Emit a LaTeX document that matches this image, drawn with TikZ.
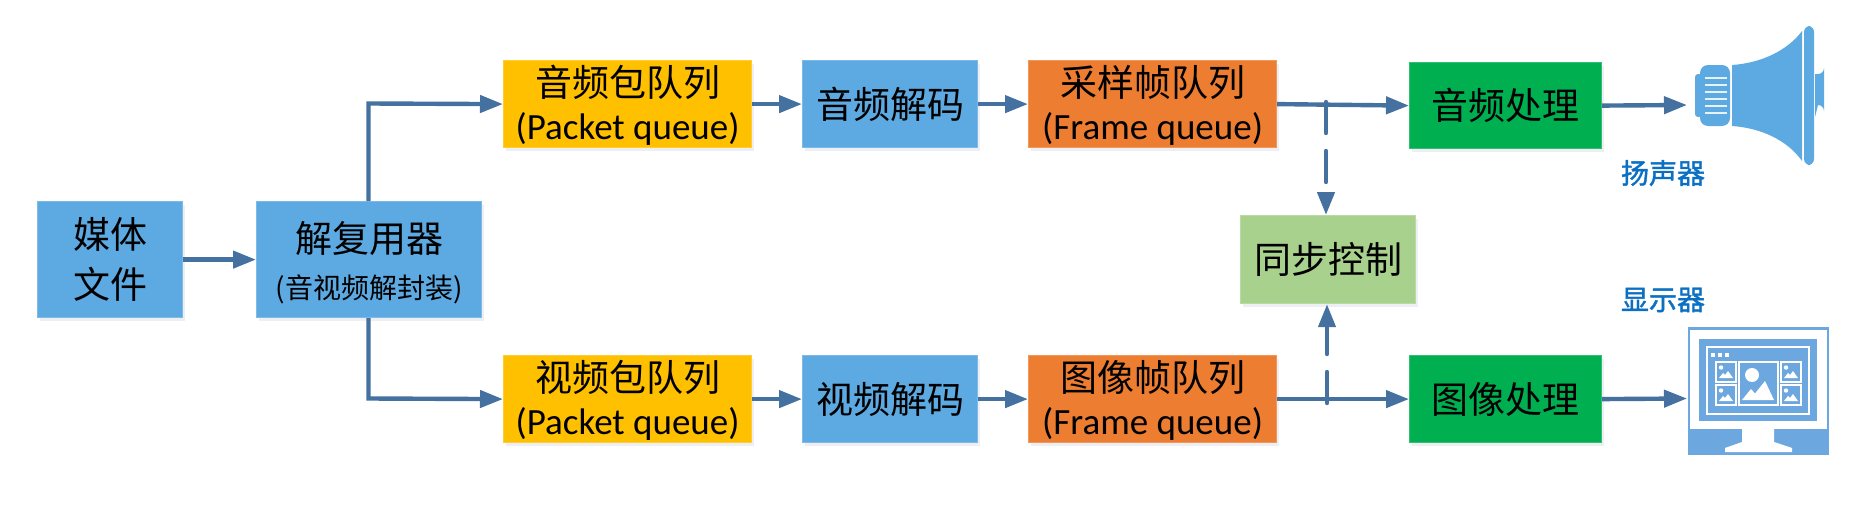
\documentclass[tikz,border=0pt]{standalone}
\usepackage{fontspec}
\setmainfont{Noto Sans CJK SC}
\newfontfamily\latinf{Carlito}
\newfontfamily\lblf[FakeBold=1.5]{Noto Sans CJK SC}
\usetikzlibrary{arrows.meta,shadows}
\definecolor{linkc}{HTML}{44719F}
\definecolor{blueb}{HTML}{5DA9E2}
\definecolor{yellowb}{HTML}{FFC000}
\definecolor{orangeb}{HTML}{ED7D31}
\definecolor{greenb}{HTML}{00AF50}
\definecolor{syncb}{HTML}{A9D18E}
\definecolor{lbl}{HTML}{0B70C4}
\definecolor{mon}{HTML}{6CA8DF}
\tikzset{
  x=0.5pt,y=-0.5pt,
  boxs/.style={draw=#1!80!white,line width=0.6pt,fill=#1,inner sep=0pt,anchor=north west,align=center,font=\fontsize{18.5}{23}\selectfont,
    general shadow={shadow xshift=1.2pt,shadow yshift=-1.6pt,fill=blue!25!gray!18,opacity=.6}},
  lnk/.style={draw=linkc,line width=2.2pt,-{Triangle[length=11.5pt,width=8.5pt,fill=linkc]}},
  dsh/.style={lnk,dash pattern=on 15.5pt off 9pt},
  lbls/.style={font=\lblf\fontsize{14}{16}\selectfont,text=lbl},
  wline/.style={draw=white,line width=1pt},
  thumb/.pic={
    \draw[white,line width=0.9pt] (0,0) rectangle (20,20);
    \fill[white] (5,5.5) circle (2.2);
    \fill[white] (3,16) -- (7,11) -- (9,13) -- (12,9) -- (17,16) -- cycle;
  },
}
\newcommand{\bx}[7]{\node[boxs=#6,minimum width=#3*0.5pt,minimum height=#4*0.5pt] (#7) at (#1,#2) {#5};}
\newcommand{\lt}[1]{{\latinf\fontsize{18.5}{23}\selectfont #1}}
\newcommand{\up}{\rule{0pt}{16.5pt}}
\begin{document}
\begin{tikzpicture}
\useasboundingbox (0,0) rectangle (1849,514);
\bx{37}{201}{145}{116}{媒体\\[2pt]文件}{blueb}{media}
\node[boxs=blueb,minimum width=112.5pt,minimum height=58pt] (demux) at (256,201) {\rule{0pt}{19pt}解复用器\\{\fontsize{14}{16}\selectfont (音视频解封装)}};
\bx{503}{60}{248}{87}{\up 音频包队列\\[-1.5pt]\lt{(Packet queue)}}{yellowb}{apq}
\bx{802}{60}{175}{87}{音频解码}{blueb}{adec}
\bx{1028}{60}{248}{87}{\up 采样帧队列\\[-1.5pt]\lt{(Frame queue)}}{orangeb}{afq}
\bx{1409}{62}{192}{86}{音频处理}{greenb}{aproc}
\bx{503}{355}{248}{87}{\up 视频包队列\\[-1.5pt]\lt{(Packet queue)}}{yellowb}{vpq}
\bx{802}{355}{175}{87}{视频解码}{blueb}{vdec}
\bx{1028}{355}{248}{87}{\up 图像帧队列\\[-1.5pt]\lt{(Frame queue)}}{orangeb}{vfq}
\bx{1409}{355}{192}{87}{图像处理}{greenb}{vproc}
\bx{1240}{215}{175}{88}{同步控制}{syncb}{sync}
\coordinate (spk) at (1687,105);
\coordinate (scr) at (1687,398.5);
\coordinate (atap) at (1326,102);
\coordinate (vtap) at (1327,403);
\draw[lnk] (media.east) -- (demux.west);
\draw[lnk] (demux.north -| 368.5,0) -- (368.5,103.5) -- (apq.west);
\draw[lnk] (demux.south -| 368.5,0) -- (368.5,398.5) -- (vpq.west);
\draw[lnk] (apq.east) -- (adec.west);
\draw[lnk] (adec.east) -- (afq.west);
\draw[lnk] (afq.east) -- (aproc.west);
\draw[lnk] (vpq.east) -- (vdec.west);
\draw[lnk] (vdec.east) -- (vfq.west);
\draw[lnk] (vfq.east) -- (vproc.west);
\draw[lnk] (aproc.east) -- (spk);
\draw[lnk] (vproc.east) -- (scr);
\draw[dsh,line cap=round] (atap) -- (atap |- sync.north);
\draw[dsh,line cap=round] (vtap) -- (vtap |- sync.south);
\node[lbls] (spklbl) at (1663,173) {扬声器};
\node[lbls] (scrlbl) at (1663,300) {显示器};
% speaker
\fill[blueb,rounded corners=1.5pt] (1695,74) rectangle (1702,117);
\fill[blueb,rounded corners=4pt] (1700,65) rectangle (1730,126);
\fill[blueb] (1732,65) .. controls (1762,63) and (1788,50) .. (1802,31) -- (1802,161) .. controls (1788,141) and (1762,128) .. (1732,126) -- cycle;
\fill[blueb,rounded corners=3pt] (1804,26) rectangle (1814,165);
\fill[blueb] (1815,74) -- (1818,74) arc[start angle=90,end angle=0,radius=6] -- (1824,111) arc[start angle=0,end angle=-90,radius=6] -- (1815,117) -- cycle;
\foreach \yy in {78,85,92,99,105.7,112.7}{\fill[white!85!blueb] (1705,\yy-1) rectangle (1727,\yy+1);}
% monitor
\fill[mon] (1688,327) rectangle (1829,455);
\fill[white] (1690,330) rectangle (1827,429);
\fill[mon] (1699,339) rectangle (1817,421);
\draw[wline] (1707,347) rectangle (1809,414);
\foreach \xx in {1713,1720,1727}{\fill[white] (\xx-2,353) rectangle (\xx+2,357);}
\pic at (1716,362) {thumb};
\pic at (1716,385) {thumb};
\pic at (1781,362) {thumb};
\pic at (1781,385) {thumb};
\draw[wline] (1739,362) rectangle (1778,405);
\fill[white] (1752,375) circle (7);
\fill[white] (1742,400) -- (1751,389) -- (1755,393.5) -- (1765,381) -- (1774,400) -- cycle;
\fill[white] (1742,429) -- (1774,429) -- (1774,442) -- (1792,448) -- (1792,452) -- (1725,452) -- (1725,448) -- (1742,442) -- cycle;
\end{tikzpicture}
\end{document}
